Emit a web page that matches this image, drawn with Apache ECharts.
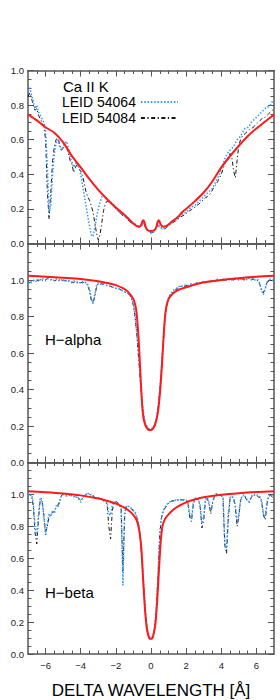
<!DOCTYPE html>
<html><head><meta charset="utf-8">
<style>html,body{margin:0;padding:0;background:#fff}#c{width:280px;height:700px}</style>
<script src="https://cdn.jsdelivr.net/npm/echarts@6/dist/echarts.min.js"></script>
</head><body><div id="c"></div><script>
const wave = [
-7,-6.9,-6.8,-6.7,-6.6,-6.5,-6.4,-6.3,-6.2,-6.1,
-6,-5.9,-5.8,-5.7,-5.6,-5.5,-5.4,-5.3,-5.2,-5.1,
-5,-4.9,-4.8,-4.7,-4.6,-4.5,-4.4,-4.3,-4.2,-4.1,
-4,-3.9,-3.8,-3.7,-3.6,-3.5,-3.4,-3.3,-3.2,-3.1,
-3,-2.9,-2.8,-2.7,-2.6,-2.5,-2.4,-2.3,-2.2,-2.1,
-2,-1.9,-1.8,-1.7,-1.6,-1.5,-1.4,-1.3,-1.2,-1.1,
-1,-0.9,-0.8,-0.7,-0.6,-0.5,-0.4,-0.3,-0.2,-0.1,
0,0.1,0.2,0.3,0.4,0.5,0.6,0.7,0.8,0.9,
1,1.1,1.2,1.3,1.4,1.5,1.6,1.7,1.8,1.9,
2,2.1,2.2,2.3,2.4,2.5,2.6,2.7,2.8,2.9,
3,3.1,3.2,3.3,3.4,3.5,3.6,3.7,3.8,3.9,
4,4.1,4.2,4.3,4.4,4.5,4.6,4.7,4.8,4.9,
5,5.1,5.2,5.3,5.4,5.5,5.6,5.7,5.8,5.9,
6,6.1,6.2,6.3,6.4,6.5,6.6,6.7,6.8,6.9,
7];

// Ca II K
const caK_54064 = [
0.88,0.90,0.86,0.82,0.78,0.80,0.76,0.74,0.72,0.70,
0.66,0.45,0.18,0.22,0.40,0.52,0.58,0.60,0.56,0.54,
0.56,0.58,0.59,0.55,0.50,0.47,0.44,0.46,0.47,0.44,
0.40,0.34,0.28,0.22,0.16,0.10,0.05,0.04,0.09,0.15,
0.20,0.24,0.27,0.28,0.27,0.26,0.25,0.24,0.23,0.22,
0.205,0.19,0.18,0.175,0.165,0.16,0.15,0.14,0.13,0.12,
0.115,0.11,0.105,0.10,0.10,0.11,0.12,0.10,0.08,0.07,
0.065,0.06,0.07,0.09,0.11,0.10,0.09,0.085,0.09,0.10,
0.11,0.115,0.12,0.13,0.14,0.145,0.155,0.16,0.17,0.175,
0.18,0.19,0.20,0.21,0.215,0.22,0.23,0.24,0.25,0.26,
0.27,0.28,0.29,0.30,0.31,0.32,0.34,0.36,0.38,0.40,
0.43,0.46,0.49,0.51,0.53,0.54,0.55,0.56,0.58,0.60,
0.61,0.62,0.64,0.66,0.67,0.67,0.68,0.70,0.71,0.72,
0.73,0.74,0.75,0.76,0.77,0.78,0.79,0.79,0.80,0.82,
0.83];
const caK_54084 = [
0.85,0.87,0.84,0.80,0.77,0.78,0.74,0.72,0.70,0.68,
0.60,0.30,0.14,0.30,0.48,0.56,0.60,0.62,0.57,0.54,
0.55,0.57,0.56,0.52,0.48,0.46,0.41,0.44,0.46,0.43,
0.42,0.39,0.35,0.30,0.27,0.25,0.22,0.18,0.12,0.06,
0.02,0.05,0.12,0.19,0.23,0.245,0.24,0.235,0.225,0.215,
0.20,0.19,0.18,0.17,0.16,0.155,0.145,0.135,0.125,0.115,
0.11,0.105,0.10,0.095,0.095,0.105,0.115,0.09,0.075,0.065,
0.06,0.065,0.075,0.09,0.105,0.095,0.085,0.08,0.085,0.095,
0.10,0.11,0.115,0.125,0.13,0.14,0.145,0.155,0.16,0.165,
0.175,0.18,0.19,0.195,0.205,0.21,0.22,0.225,0.235,0.245,
0.255,0.265,0.27,0.28,0.29,0.31,0.33,0.34,0.36,0.38,
0.40,0.43,0.46,0.48,0.50,0.52,0.50,0.42,0.38,0.48,
0.57,0.60,0.62,0.63,0.64,0.65,0.66,0.665,0.67,0.68,
0.69,0.70,0.71,0.72,0.725,0.73,0.74,0.75,0.76,0.77,
0.78];
const caKModelX = [-7,-6.5,-6,-5.5,-5,-4.5,-4,-3.5,-3,-2.5,-2,-1.5,-1.2,-1,-0.8,-0.65,-0.55,-0.45,-0.38,-0.3,-0.2,0,0.2,0.3,0.38,0.45,0.55,0.7,0.85,1,1.2,1.5,1.8,2,2.5,3,3.5,4,4.5,5,5.5,6,6.5,7];
const caKModelY = [0.745,0.712,0.672,0.640,0.585,0.505,0.440,0.372,0.310,0.256,0.208,0.165,0.135,0.115,0.100,0.097,0.110,0.135,0.125,0.095,0.078,0.072,0.078,0.095,0.125,0.135,0.110,0.097,0.100,0.110,0.128,0.150,0.184,0.200,0.245,0.295,0.360,0.440,0.505,0.565,0.620,0.665,0.705,0.745];

// H-alpha
const ha_54064 = [
0.98,0.99,0.985,0.995,1.00,0.99,1.005,1.00,1.01,1.00,
0.995,1.00,1.02,1.005,0.995,1.00,1.01,1.00,0.995,1.00,
1.005,0.99,0.995,1.00,0.99,0.985,0.995,0.99,0.985,0.99,
0.98,0.985,0.99,0.985,0.975,0.95,0.90,0.875,0.92,0.97,
0.985,0.98,0.975,0.98,0.975,0.97,0.97,0.965,0.96,0.96,
0.955,0.955,0.95,0.945,0.94,0.935,0.93,0.925,0.92,0.90,
0.87,0.80,0.70,0.58,0.45,0.33,0.25,0.21,0.195,0.185,
0.185,0.19,0.205,0.24,0.30,0.40,0.53,0.67,0.80,0.87,
0.905,0.925,0.935,0.945,0.95,0.96,0.965,0.97,0.965,0.97,
0.975,0.97,0.975,0.98,0.975,0.98,0.985,0.98,0.985,0.99,
0.985,0.99,0.995,0.99,0.995,1.00,0.995,1.00,1.005,1.00,
1.00,1.005,1.00,1.005,1.01,1.005,1.00,1.005,1.01,1.005,
1.00,1.005,1.01,1.005,1.00,1.005,1.01,1.005,1.01,1.00,
1.005,1.00,0.98,0.94,0.92,0.95,0.99,1.00,1.005,1.00,
0.995];
const ha_54084 = [
0.99,0.985,0.99,1.00,0.995,1.00,0.995,1.005,1.00,0.995,
1.00,1.01,1.005,1.00,1.005,0.995,1.00,1.005,1.00,0.995,
1.00,0.995,1.00,0.995,0.99,0.99,0.985,0.995,0.99,0.985,
0.985,0.99,0.985,0.98,0.97,0.94,0.89,0.87,0.91,0.96,
0.98,0.975,0.98,0.975,0.97,0.97,0.965,0.965,0.96,0.955,
0.955,0.95,0.95,0.945,0.94,0.935,0.93,0.925,0.915,0.895,
0.86,0.79,0.69,0.57,0.44,0.32,0.245,0.205,0.19,0.18,
0.18,0.185,0.20,0.235,0.295,0.39,0.52,0.66,0.79,0.865,
0.90,0.92,0.93,0.94,0.945,0.955,0.96,0.965,0.965,0.965,
0.97,0.97,0.97,0.975,0.975,0.975,0.98,0.98,0.98,0.985,
0.985,0.985,0.99,0.99,0.99,0.995,0.995,0.995,1.00,1.00,
0.995,1.00,1.00,1.00,1.005,1.00,1.005,1.00,1.005,1.005,
1.00,1.005,1.005,1.00,1.005,1.01,1.005,1.00,1.005,1.005,
1.00,0.995,0.975,0.945,0.93,0.955,0.985,0.995,1.00,0.995,
0.99];
const haModelX = [-7,-6,-5,-4,-3,-2.5,-2,-1.6,-1.3,-1.1,-1,-0.9,-0.85,-0.8,-0.75,-0.7,-0.65,-0.6,-0.55,-0.5,-0.45,-0.4,-0.3,-0.2,-0.1,0,0.1,0.2,0.3,0.4,0.45,0.5,0.55,0.6,0.65,0.7,0.75,0.8,0.85,0.9,1,1.1,1.3,1.6,2,2.5,3,4,5,6,7];
const haModelY = [1.023,1.018,1.012,1.005,0.993,0.984,0.972,0.955,0.935,0.910,0.895,0.865,0.840,0.800,0.74,0.67,0.58,0.48,0.39,0.31,0.26,0.23,0.20,0.185,0.178,0.178,0.185,0.20,0.23,0.28,0.32,0.37,0.43,0.50,0.58,0.66,0.74,0.80,0.84,0.865,0.895,0.910,0.930,0.948,0.960,0.975,0.988,1.000,1.010,1.018,1.023];

// H-beta
const hb_54064 = [
1.00,0.99,1.00,0.95,0.80,0.74,0.88,0.98,0.97,0.86,
0.74,0.82,0.88,0.86,0.90,0.88,0.93,0.92,0.95,0.99,
1.00,0.995,0.99,1.00,0.99,0.995,0.985,0.99,0.98,0.97,
0.95,0.98,0.99,1.00,1.01,0.995,1.00,0.99,0.985,0.975,
0.98,0.97,0.975,0.96,0.955,0.95,0.88,0.87,0.94,0.955,
0.95,0.945,0.93,0.92,0.43,0.88,0.93,0.925,0.92,0.91,
0.90,0.89,0.86,0.82,0.73,0.58,0.40,0.25,0.15,0.11,
0.10,0.11,0.16,0.28,0.50,0.76,0.86,0.90,0.92,0.935,
0.95,0.955,0.96,0.955,0.965,0.96,0.97,0.965,0.96,0.97,
0.965,0.95,0.88,0.85,0.94,0.975,0.98,0.97,0.93,0.82,
0.86,0.97,0.98,0.95,0.89,0.95,0.99,1.005,1.00,0.995,
1.00,0.98,0.70,0.66,0.88,0.98,0.99,0.98,0.93,0.82,
0.88,0.97,0.99,1.00,0.98,0.96,0.955,0.985,1.00,0.995,
1.00,0.99,0.985,0.96,0.88,0.86,0.95,0.99,1.00,0.99,
0.98];
const hb_54084 = [
0.99,1.00,0.99,0.93,0.76,0.69,0.85,0.97,0.96,0.87,
0.76,0.80,0.86,0.87,0.89,0.89,0.92,0.93,0.96,0.99,
1.005,1.00,0.995,0.99,1.00,0.99,0.99,0.985,0.985,0.975,
0.96,0.975,0.99,1.00,1.005,1.00,0.995,0.995,0.98,0.98,
0.975,0.975,0.97,0.965,0.96,0.94,0.80,0.72,0.90,0.95,
0.955,0.95,0.935,0.92,0.52,0.86,0.925,0.93,0.915,0.91,
0.895,0.88,0.855,0.81,0.72,0.57,0.39,0.24,0.145,0.105,
0.095,0.105,0.155,0.27,0.49,0.75,0.855,0.895,0.915,0.93,
0.945,0.955,0.96,0.96,0.96,0.965,0.965,0.97,0.965,0.965,
0.96,0.945,0.86,0.83,0.93,0.97,0.975,0.965,0.92,0.79,
0.84,0.96,0.975,0.94,0.88,0.94,0.985,1.00,1.005,0.995,
0.995,0.97,0.68,0.63,0.85,0.975,0.985,0.975,0.92,0.80,
0.86,0.965,0.985,0.995,0.975,0.955,0.95,0.98,0.995,1.00,
0.995,0.985,0.98,0.95,0.87,0.84,0.94,0.985,0.995,0.985,
0.975];
const hbModelX = [-7,-6,-5,-4,-3,-2.5,-2,-1.5,-1.2,-1,-0.85,-0.75,-0.65,-0.55,-0.45,-0.35,-0.25,-0.15,-0.05,0.05,0.15,0.25,0.35,0.45,0.55,0.65,0.75,0.85,1,1.2,1.5,2,2.5,3,4,5,6,7];
const hbModelY = [1.020,1.014,1.006,0.994,0.975,0.960,0.942,0.916,0.893,0.870,0.845,0.815,0.76,0.66,0.47,0.29,0.17,0.115,0.095,0.095,0.125,0.19,0.33,0.52,0.70,0.80,0.835,0.855,0.875,0.898,0.922,0.950,0.968,0.982,0.998,1.008,1.015,1.020];

// ticks and labels
const majorX = [-6,-4,-2,0,2,4,6];
const xTickLabels = ['\u22126','\u22124','\u22122','0','2','4','6'];
const minorX = [-6.5,-5.5,-5,-4.5,-3.5,-3,-2.5,-1.5,-1,-0.5,0.5,1,1.5,2.5,3,3.5,4.5,5,5.5,6.5];
const yLabelValues = [0,0.2,0.4,0.6,0.8,1.0];
const seriesNames = ['LEID 54064','LEID 54084'];
const panelLabels = ['Ca II K','H\u2212alpha','H\u2212beta'];
const xTitle = 'DELTA WAVELENGTH [\u00c5]';

const FONT = '"Liberation Sans", Arial, Helvetica, sans-serif';
const AX = '#555';
const BLUE = '#3399ff', BLACK = '#151515', RED = '#ff1a1a';

const panels = [
  {top:70.5, height:173, ymax:1.0, obs:[caK_54064, caK_54084], mx:caKModelX, my:caKModelY},
  {top:243.5, height:219, ymax:1.2, obs:[ha_54064, ha_54084], mx:haModelX, my:haModelY},
  {top:462.5, height:200.5, ymax:1.2, obs:[hb_54064, hb_54084], mx:hbModelX, my:hbModelY}
];

const grids=[], xAxes=[], yAxes=[], series=[];
panels.forEach((p,i)=>{
  grids.push({left:28, width:246, top:p.top, height:p.height, containLabel:false});
  const isLast = i===2;
  const base = {type:'value', min:-7, max:7, gridIndex:i, splitLine:{show:false}, axisPointer:{show:false}};
  xAxes.push(Object.assign({}, base, {
    position:'bottom',
    axisLine:{show:true, onZero:false, lineStyle:{color:AX, width:1.5}},
    axisTick:{show:true, inside:true, length:6, customValues:majorX, lineStyle:{color:AX, width:1}},
    axisLabel:{show:isLast, customValues:majorX, margin:6, fontSize:9.5, color:'#222', fontFamily:FONT,
      formatter:v=>{const k=majorX.indexOf(Math.round(v)); return k>=0?xTickLabels[k]:'';}},
    name:isLast?xTitle:'', nameLocation:'middle', nameGap:28,
    nameTextStyle:{fontSize:17, color:'#000', fontFamily:FONT}
  }));
  xAxes.push(Object.assign({}, base, {
    position:'bottom', axisLine:{show:false, onZero:false},
    axisTick:{show:true, inside:true, length:3.5, customValues:minorX, lineStyle:{color:AX, width:1}},
    axisLabel:{show:false}
  }));
  xAxes.push(Object.assign({}, base, {
    position:'top',
    axisLine:{show:true, onZero:false, lineStyle:{color:AX, width:1.5}},
    axisTick:{show:true, inside:true, length:6, customValues:majorX, lineStyle:{color:AX, width:1}},
    axisLabel:{show:false}
  }));
  xAxes.push(Object.assign({}, base, {
    position:'top', axisLine:{show:false, onZero:false},
    axisTick:{show:true, inside:true, length:3.5, customValues:minorX, lineStyle:{color:AX, width:1}},
    axisLabel:{show:false}
  }));
  const ybase = {type:'value', min:0, max:p.ymax, interval:0.2, gridIndex:i, splitLine:{show:false},
    axisLine:{show:true, onZero:false, lineStyle:{color:AX, width:1.5}},
    axisTick:{show:true, inside:true, length:6, lineStyle:{color:AX, width:1}},
    minorTick:{show:true, splitNumber:4, length:3.5, lineStyle:{color:AX, width:1}},
    minorSplitLine:{show:false}};
  yAxes.push(Object.assign({}, ybase, {position:'left',
    axisLabel:{show:true, margin:4, fontSize:9.5, color:'#222', fontFamily:FONT, showMaxLabel:true,
      formatter:v=> yLabelValues.some(t=>Math.abs(t-v)<1e-6) ? v.toFixed(1) : ''}}));
  yAxes.push(Object.assign({}, ybase, {position:'right', axisLabel:{show:false}}));

  const suffix = i===0 ? '' : ' #'+i;
  series.push({type:'line', name:seriesNames[1]+suffix, xAxisIndex:4*i, yAxisIndex:2*i,
    data:wave.map((x,k)=>[x,p.obs[1][k]]), symbol:'none', showSymbol:false, smooth:false,
    lineStyle:{color:BLACK, width:1, type:[4,2.5,1.2,2.5]}, itemStyle:{color:BLACK}, z:2});
  series.push({type:'line', name:seriesNames[0]+suffix, xAxisIndex:4*i, yAxisIndex:2*i,
    data:wave.map((x,k)=>[x,p.obs[0][k]]), symbol:'none', showSymbol:false, smooth:false,
    lineStyle:{color:BLUE, width:1.5, type:[1.5,1.8]}, itemStyle:{color:BLUE}, z:3});
  series.push({type:'line', name:'model'+suffix, xAxisIndex:4*i, yAxisIndex:2*i,
    data:p.mx.map((x,k)=>[x,p.my[k]]), symbol:'none', showSymbol:false, smooth:0.3,
    lineStyle:{color:RED, width:2}, itemStyle:{color:RED}, z:4});
});

const chart = echarts.init(document.getElementById('c'), null, {renderer:'svg', width:280, height:700});
chart.setOption({
  animation:false,
  backgroundColor:'#fff',
  grid:grids, xAxis:xAxes, yAxis:yAxes, series:series,
  legend:{data:seriesNames, left:62, top:95, orient:'vertical', align:'right', padding:0,
    itemWidth:37, itemHeight:14, itemGap:2, selectedMode:false,
    itemStyle:{opacity:0, borderWidth:0},
    textStyle:{fontSize:14, lineHeight:14, color:'#000', fontFamily:FONT}},
  graphic:[
    {type:'text', left:63, top:79, style:{text:panelLabels[0], font:'15px '+FONT, fill:'#000'}},
    {type:'text', left:45, top:332, style:{text:panelLabels[1], font:'15px '+FONT, fill:'#000'}},
    {type:'text', left:45, top:585, style:{text:panelLabels[2], font:'15px '+FONT, fill:'#000'}}
  ]
});
</script></body></html>
